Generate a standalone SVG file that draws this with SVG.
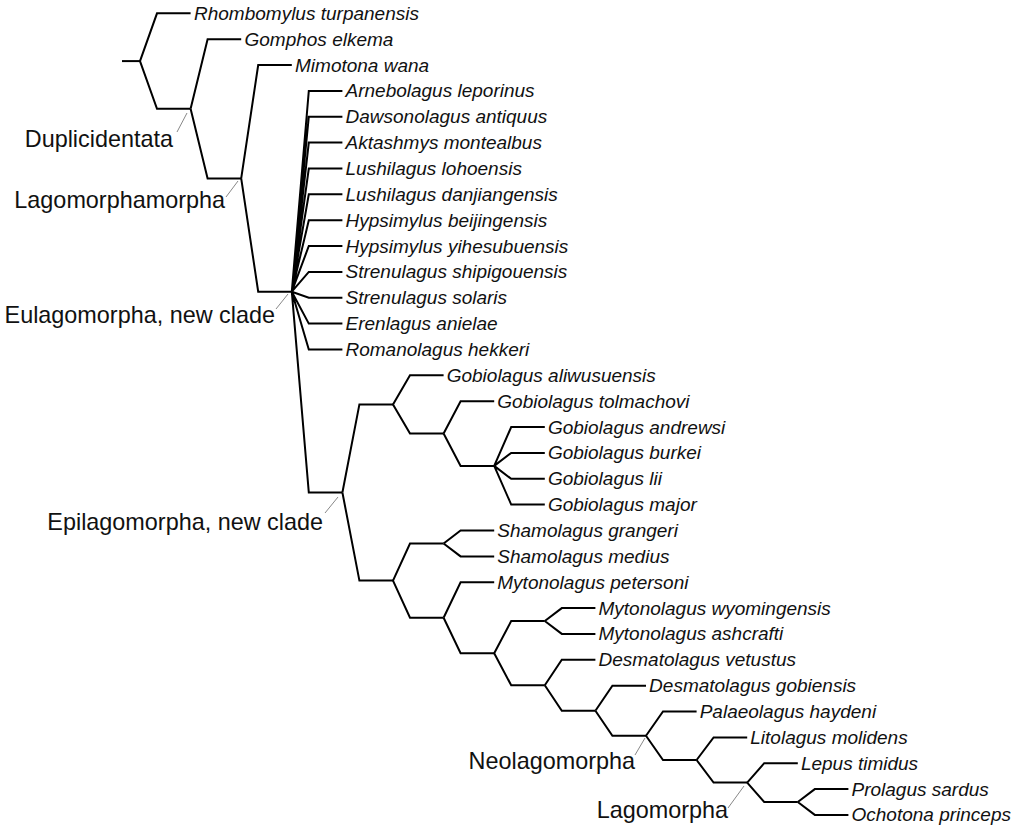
<svg xmlns="http://www.w3.org/2000/svg" width="1024" height="829" viewBox="0 0 1024 829">
<style>
.br{fill:none;stroke:#000;stroke-width:2;stroke-linejoin:miter;stroke-linecap:butt}
.ld{fill:none;stroke:#888;stroke-width:1}
.tx{font-family:"Liberation Sans",Arial,sans-serif;font-style:italic;font-size:19px;fill:#111}
.cl{font-family:"Liberation Sans",Arial,sans-serif;font-size:23.4px;fill:#111;text-anchor:end}
</style>
<rect width="1024" height="829" fill="#fff"/>
<g id="connectors" class="br">
<path d="M122,61.1 L140,61.1"/>
<path d="M140,61.1 L157,13.3 L190.6,13.3 M140,61.1 L157,108.8 L190.6,108.8"/>
<path d="M190.6,108.8 L207.6,39.2 L241.2,39.2 M190.6,108.8 L207.6,178.4 L241.2,178.4"/>
<path d="M241.2,178.4 L258.2,65 L291.8,65 M241.2,178.4 L258.2,291.7 L291.8,291.7"/>
<path d="M291.8,291.7 L308.8,90.9 L342.4,90.9 M291.8,291.7 L308.8,116.7 L342.4,116.7 M291.8,291.7 L308.8,142.6 L342.4,142.6 M291.8,291.7 L308.8,168.5 L342.4,168.5 M291.8,291.7 L308.8,194.3 L342.4,194.3 M291.8,291.7 L308.8,220.2 L342.4,220.2 M291.8,291.7 L308.8,246 L342.4,246 M291.8,291.7 L308.8,271.9 L342.4,271.9 M291.8,291.7 L308.8,297.8 L342.4,297.8 M291.8,291.7 L308.8,323.6 L342.4,323.6 M291.8,291.7 L308.8,349.5 L342.4,349.5 M291.8,291.7 L308.8,492.5 L342.4,492.5"/>
<path d="M342.4,492.5 L359.4,404.4 L393,404.4 M342.4,492.5 L359.4,580.6 L393,580.6"/>
<path d="M393,404.4 L410,375.3 L443.6,375.3 M393,404.4 L410,433.5 L443.6,433.5"/>
<path d="M443.6,433.5 L460.6,401.2 L494.2,401.2 M443.6,433.5 L460.6,465.9 L494.2,465.9"/>
<path d="M494.2,465.9 L511.2,427.1 L544.8,427.1 M494.2,465.9 L511.2,452.9 L544.8,452.9 M494.2,465.9 L511.2,478.8 L544.8,478.8 M494.2,465.9 L511.2,504.6 L544.8,504.6"/>
<path d="M393,580.6 L410,543.5 L443.6,543.5 M393,580.6 L410,617.7 L443.6,617.7"/>
<path d="M443.6,543.5 L460.6,530.5 L494.2,530.5 M443.6,543.5 L460.6,556.4 L494.2,556.4"/>
<path d="M443.6,617.7 L460.6,582.2 L494.2,582.2 M443.6,617.7 L460.6,653.2 L494.2,653.2"/>
<path d="M494.2,653.2 L511.2,621 L544.8,621 M494.2,653.2 L511.2,685.3 L544.8,685.3"/>
<path d="M544.8,621 L561.8,608.1 L595.4,608.1 M544.8,621 L561.8,633.9 L595.4,633.9"/>
<path d="M544.8,685.3 L561.8,659.8 L595.4,659.8 M544.8,685.3 L561.8,710.8 L595.4,710.8"/>
<path d="M595.4,710.8 L612.4,685.7 L646,685.7 M595.4,710.8 L612.4,735.8 L646,735.8"/>
<path d="M646,735.8 L663,711.5 L696.6,711.5 M646,735.8 L663,760 L696.6,760"/>
<path d="M696.6,760 L713.6,737.4 L747.2,737.4 M696.6,760 L713.6,782.6 L747.2,782.6"/>
<path d="M747.2,782.6 L764.2,763.2 L797.8,763.2 M747.2,782.6 L764.2,802 L797.8,802"/>
<path d="M797.8,802 L814.8,789.1 L848.4,789.1 M797.8,802 L814.8,814.9 L848.4,814.9"/>
</g>
<g id="leaders" class="ld">
<path d="M177,132 L187,113"/>
<path d="M226,197 L238,181"/>
<path d="M276,309 L288,294"/>
<path d="M325,513 L338,497"/>
<path d="M635,755 L645,738"/>
<path d="M728,808 L744,786"/>
</g>
<g id="clade-Duplicidentata"><text class="cl" x="173" y="147">Duplicidentata</text></g>
<g id="clade-Lagomorphamorpha"><text class="cl" x="225" y="208">Lagomorphamorpha</text></g>
<g id="clade-Eulagomorpha"><text class="cl" x="275" y="323">Eulagomorpha, new clade</text></g>
<g id="clade-Epilagomorpha"><text class="cl" x="323" y="530">Epilagomorpha, new clade</text></g>
<g id="clade-Neolagomorpha"><text class="cl" x="635" y="769">Neolagomorpha</text></g>
<g id="clade-Lagomorpha"><text class="cl" x="728" y="818">Lagomorpha</text></g>
<g id="leaf-01"><text class="tx" x="194" y="19.8">Rhombomylus turpanensis</text></g>
<g id="leaf-02"><text class="tx" x="244.5" y="45.7">Gomphos elkema</text></g>
<g id="leaf-03"><text class="tx" x="295" y="71.5">Mimotona wana</text></g>
<g id="leaf-04"><text class="tx" x="345.5" y="97.4">Arnebolagus leporinus</text></g>
<g id="leaf-05"><text class="tx" x="345.5" y="123.2">Dawsonolagus antiquus</text></g>
<g id="leaf-06"><text class="tx" x="345.5" y="149.1">Aktashmys montealbus</text></g>
<g id="leaf-07"><text class="tx" x="345.5" y="175">Lushilagus lohoensis</text></g>
<g id="leaf-08"><text class="tx" x="345.5" y="200.8">Lushilagus danjiangensis</text></g>
<g id="leaf-09"><text class="tx" x="345.5" y="226.7">Hypsimylus beijingensis</text></g>
<g id="leaf-10"><text class="tx" x="345.5" y="252.5">Hypsimylus yihesubuensis</text></g>
<g id="leaf-11"><text class="tx" x="345.5" y="278.4">Strenulagus shipigouensis</text></g>
<g id="leaf-12"><text class="tx" x="345.5" y="304.3">Strenulagus solaris</text></g>
<g id="leaf-13"><text class="tx" x="345.5" y="330.1">Erenlagus anielae</text></g>
<g id="leaf-14"><text class="tx" x="345.5" y="356">Romanolagus hekkeri</text></g>
<g id="leaf-15"><text class="tx" x="446.7" y="381.8">Gobiolagus aliwusuensis</text></g>
<g id="leaf-16"><text class="tx" x="497.3" y="407.7">Gobiolagus tolmachovi</text></g>
<g id="leaf-17"><text class="tx" x="547.9" y="433.6">Gobiolagus andrewsi</text></g>
<g id="leaf-18"><text class="tx" x="547.9" y="459.4">Gobiolagus burkei</text></g>
<g id="leaf-19"><text class="tx" x="547.9" y="485.3">Gobiolagus lii</text></g>
<g id="leaf-20"><text class="tx" x="547.9" y="511.1">Gobiolagus major</text></g>
<g id="leaf-21"><text class="tx" x="497.3" y="537">Shamolagus grangeri</text></g>
<g id="leaf-22"><text class="tx" x="497.3" y="562.9">Shamolagus medius</text></g>
<g id="leaf-23"><text class="tx" x="497.3" y="588.7">Mytonolagus petersoni</text></g>
<g id="leaf-24"><text class="tx" x="598.5" y="614.6">Mytonolagus wyomingensis</text></g>
<g id="leaf-25"><text class="tx" x="598.5" y="640.4">Mytonolagus ashcrafti</text></g>
<g id="leaf-26"><text class="tx" x="598.5" y="666.3">Desmatolagus vetustus</text></g>
<g id="leaf-27"><text class="tx" x="649.1" y="692.2">Desmatolagus gobiensis</text></g>
<g id="leaf-28"><text class="tx" x="699.7" y="718">Palaeolagus haydeni</text></g>
<g id="leaf-29"><text class="tx" x="750.3" y="743.9">Litolagus molidens</text></g>
<g id="leaf-30"><text class="tx" x="800.9" y="769.7">Lepus timidus</text></g>
<g id="leaf-31"><text class="tx" x="851.5" y="795.6">Prolagus sardus</text></g>
<g id="leaf-32"><text class="tx" x="851.5" y="821.4">Ochotona princeps</text></g>
</svg>
